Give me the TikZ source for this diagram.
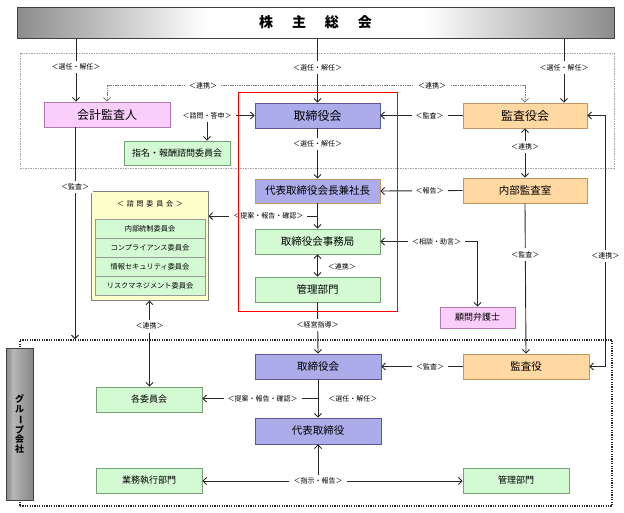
\documentclass[tikz,border=0pt]{standalone}
\usepackage{fontspec}
\setmainfont{Noto Sans CJK JP}
\usepackage{graphicx}
\usetikzlibrary{arrows.meta,calc,shadows}

\definecolor{blueF}{RGB}{172,172,234}
\definecolor{blueD}{RGB}{88,88,150}
\definecolor{pinkF}{RGB}{250,206,250}
\definecolor{pinkD}{RGB}{176,120,176}
\definecolor{greenF}{RGB}{212,250,212}
\definecolor{greenD}{RGB}{118,160,118}
\definecolor{orangeF}{RGB}{255,216,162}
\definecolor{orangeD}{RGB}{190,150,100}
\definecolor{creamF}{RGB}{255,255,204}
\definecolor{lineC}{RGB}{40,40,40}
\definecolor{bannerG}{RGB}{140,140,140}
\definecolor{barG}{RGB}{135,135,135}

\pgfdeclarehorizontalshading{bannershade}{100bp}{color(0bp)=(bannerG); color(25bp)=(bannerG);
  color(41bp)=(white); color(59bp)=(white); color(75bp)=(bannerG); color(100bp)=(bannerG)}
\pgfdeclarehorizontalshading{barshade}{100bp}{color(0bp)=(barG); color(25bp)=(barG);
  color(38bp)=(barG!60!white); color(55bp)=(barG!80!white); color(75bp)=(barG); color(100bp)=(barG)}

\begin{document}
\begin{tikzpicture}[x=1pt,y=-1pt,
  box/.style={draw, line width=0.8pt, inner sep=0pt, minimum height=25pt,
    drop shadow={shadow xshift=1pt,shadow yshift=-1pt,opacity=0.35}},
  bluebox/.style={box, fill=blueF, draw=blueD},
  pinkbox/.style={box, fill=pinkF, draw=pinkD},
  greenbox/.style={box, fill=greenF, draw=greenD},
  orangebox/.style={box, fill=orangeF, draw=orangeD},
  rowbox/.style={draw=gray!80, fill=greenF, line width=0.6pt, inner sep=0pt,
    minimum width=110pt, minimum height=19pt, font=\fontsize{7.2}{8}\selectfont},
  big/.style={font=\fontsize{12}{14}\selectfont},
  mid/.style={font=\fontsize{10.5}{12}\selectfont},
  small/.style={font=\fontsize{9}{11}\selectfont},
  lbl/.style={fill=white, inner xsep=4pt, inner ysep=3pt, font=\fontsize{7}{8}\selectfont},
  arr/.style={draw=lineC, line width=0.9pt, -{Straight Barb[length=3.5pt,width=7pt]}},
  arrs/.style={arr, {Straight Barb[length=3.5pt,width=7pt]}-{Straight Barb[length=3.5pt,width=7pt]}},
  dlink/.style={arrs, draw=gray, dash pattern=on 1.5pt off 0.8pt},
]
\fill[white] (0,0) rectangle (624,512);
\useasboundingbox (0,0) rectangle (624,512);

% frames
\draw[gray!70, line width=0.8pt, dash pattern=on 1.5pt off 1pt] (20,53) rectangle (614,168);
\node[draw=lineC, line width=1.5pt, dash pattern=on 1.2pt off 1.2pt, inner sep=0pt,
  minimum width=592pt, minimum height=166pt] (grp) at (316,423) {};

% shareholders
\node[draw=gray!50!black, line width=1pt, shading=bannershade, inner sep=0pt,
  minimum width=597pt, minimum height=31pt, font=\bfseries\fontsize{14}{16}\selectfont]
  (soukai) at (315.5,22.5) {株\hspace{19pt}主\hspace{19pt}総\hspace{19pt}会};

% head office
\node[pinkbox, big, minimum width=126pt] (kaikei) at (107,114.5) {会計監査人};
\node[bluebox, big, minimum width=125pt] (torishimari) at (317.5,115.5) {取締役会};
\node[orangebox, big, minimum width=124pt] (kansayakukai) at (525,115.5) {監査役会};
\node[greenbox, small, minimum width=106pt, minimum height=24pt] (shimei) at (177,153) {指名・報酬諮問委員会};
\node[bluebox, mid, draw=orangeD, minimum width=125pt, minimum height=24pt] (daihyo) at (317.5,191) {代表取締役会長兼社長};
\node[orangebox, mid, minimum width=124pt] (naibu) at (525,190.5) {内部監査室};
\node[greenbox, mid, minimum width=125pt] (jimukyoku) at (317.5,241.5) {取締役会事務局};
\node[greenbox, mid, minimum width=125pt] (kanri) at (317.5,289.5) {管理部門};
\node[pinkbox, small, minimum width=75pt, minimum height=21pt] (bengoshi) at (477.5,317.5) {顧問弁護士};

% advisory committees
\node[draw=gray, fill=creamF, line width=1pt, inner sep=0pt,
  minimum width=117pt, minimum height=109pt] (shimon) at (149.5,245.5) {};
\node[font=\fontsize{7}{8}\selectfont\addfontfeature{LetterSpace=40}] (shimonT) at (150,204) {＜諮問委員会＞};
\foreach \t [count=\i] in {内部統制委員会,コンプライアンス委員会,情報セキュリティ委員会,リスクマネジメント委員会}
  \node[rowbox] (row\i) at (150,209.5+19*\i) {\t};

% group companies
\node[draw=gray!50!black, line width=0.8pt, shading=barshade, inner sep=0pt, align=center,
  minimum width=27pt, minimum height=152pt, font=\bfseries\fontsize{9}{9.6}\selectfont]
  (bar) at (19.5,424) {グ\\ル\\\rotatebox[origin=c]{-90}{ー}\\プ\\会\\社};
\node[bluebox, mid, minimum width=126pt] (g_torishimari) at (318,366.5) {取締役会};
\node[orangebox, mid, minimum width=126pt] (g_kansayaku) at (526,366.5) {監査役};
\node[greenbox, small, minimum width=106pt] (g_iinkai) at (149,399.5) {各委員会};
\node[bluebox, mid, minimum width=126pt, minimum height=26pt] (g_daihyo) at (318,431) {代表取締役};
\node[greenbox, small, minimum width=106pt] (g_gyomu) at (149,480.5) {業務執行部門};
\node[greenbox, small, minimum width=106pt] (g_kanri) at (516,480.5) {管理部門};

% connectors, upper part
\coordinate (s1) at ([xshift=-31pt]kaikei.north);
\coordinate (s3) at ([xshift=39pt]kansayakukai.north);
\draw[arr] (soukai.south -| s1) -- node[lbl,pos=0.45] {＜選任・解任＞} (s1);
\draw[arr] (soukai.south -| torishimari.north) -- node[lbl,pos=0.45] {＜選任・解任＞} (torishimari.north);
\draw[arr] (soukai.south -| s3) -- node[lbl,pos=0.45] {＜選任・解任＞} (s3);
\draw[dlink] (kaikei.north) -- ++(0,-16) -| node[lbl,pos=0.115] {＜連携＞}
  node[lbl,pos=0.389] {＜連携＞} (kansayakukai.north);
\draw[arrs] ([xshift=30pt]shimei.north) |- node[lbl,pos=0.5] {＜諮問・答申＞} (torishimari.west);
\draw[arr] (kansayakukai.west) -- node[lbl,pos=0.4] {＜監査＞} (torishimari.east);
\draw[arr] (torishimari.south) -- node[lbl,pos=0.31] {＜選任・解任＞} (daihyo.north);
\draw[arrs] (kansayakukai.south) -- node[lbl,pos=0.38] {＜連携＞} (naibu.north);
\draw[arr] (naibu.west) -- node[lbl,pos=0.4] {＜報告＞} (daihyo.east);
\draw[arr] (daihyo.south) -- (jimukyoku.north);
\coordinate (j1) at ($(daihyo.south)!0.5!(jimukyoku.north)$);
\draw[arr] (j1) -- node[lbl,pos=0.45] {＜提案・報告・確認＞} (j1 -| shimon.east);
\draw[arrs] (jimukyoku.east) -| node[lbl,pos=0.29] {＜相談・助言＞} (bengoshi.north);
\draw[arrs] (jimukyoku.south) -- node[lbl,fill=none,right=6pt,pos=0.55] {＜連携＞} (kanri.north);
\draw[arr] (naibu.south) -- node[lbl,pos=0.34] {＜監査＞} (g_kansayaku.north);
\coordinate (k1) at ([xshift=-32pt]kaikei.south);
\draw[arr] (k1) -- node[lbl,pos=0.28] {＜監査＞} (k1 |- grp.north);
\draw[arrs] (shimon.south) -- node[lbl,pos=0.3] {＜連携＞} (shimon.south |- g_iinkai.north);
\draw[arr] (kanri.south) -- node[lbl,pos=0.44] {＜経営指導＞} (g_torishimari.north);
\draw[arrs] (g_kansayaku.east) -- ++(16,0) |- node[lbl,pos=0.22] {＜連携＞} (kansayakukai.east);

% connectors, group companies
\draw[arr] (g_kansayaku.west) -- node[lbl,pos=0.4] {＜監査＞} (g_torishimari.east);
\draw[arr] (g_torishimari.south) -- node[lbl,fill=none,right=6pt] {＜選任・解任＞} (g_daihyo.north);
\coordinate (j2) at ($(g_torishimari.south)!0.5!(g_daihyo.north)$);
\draw[arr] (j2) -- node[lbl,pos=0.48] {＜提案・報告・確認＞} (j2 -| g_iinkai.east);
\node[lbl] (shiji) at (318,481) {＜指示・報告＞};
\draw[arr] (shiji.north) -- (g_daihyo.south);
\draw[arr] (shiji.west) -- (shiji.west -| g_gyomu.east);
\draw[arr] (shiji.east) -- (shiji.east -| g_kanri.west);

% head office frame
\draw[red, line width=1pt] (238,92) rectangle (397,311);
\end{tikzpicture}
\end{document}
